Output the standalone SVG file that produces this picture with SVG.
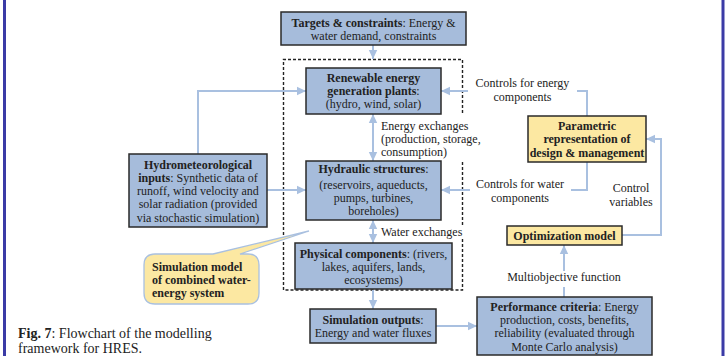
<svg xmlns="http://www.w3.org/2000/svg" width="727" height="356" viewBox="0 0 727 356">
<style>
text{font-family:"Liberation Serif","Times New Roman",serif;font-size:12px;fill:#222}
.c{text-anchor:middle}
.b{font-weight:bold}
.box{fill:#a6bcdb;stroke:#2a2a2a;stroke-width:1.5}
.yel{fill:#fce8a2;stroke:#2a2a2a;stroke-width:1.5}
.con{fill:none;stroke:#a9c0e0;stroke-width:2}
.dash{fill:none;stroke:#222;stroke-width:1.4;stroke-dasharray:3 2}
</style>
<defs>
<marker id="ah" markerUnits="userSpaceOnUse" markerWidth="10" markerHeight="10" refX="9" refY="5" orient="auto">
<path d="M0 0.8 L9 5 L0 9.2 Z" fill="#a9c0e0"/>
</marker>
<marker id="as" markerUnits="userSpaceOnUse" markerWidth="10" markerHeight="10" refX="9" refY="5" orient="auto-start-reverse">
<path d="M0 0.8 L9 5 L0 9.2 Z" fill="#a9c0e0"/>
</marker>
</defs>
<rect width="727" height="356" fill="#fff"/>
<rect x="3" y="0" width="3" height="356" fill="#3b3ba6"/>
<rect x="721.5" y="0" width="3" height="356" fill="#3b3ba6"/>

<g id="simulation-boundary">
<path class="dash" d="M462.5 113 V59.5 H283.5 V290 H462.5 V237 M462.5 225 V161"/>
</g>

<g id="connectors">
<path class="con" d="M373 45 V59" marker-end="url(#ah)"/>
<path class="con" d="M373 114 V161" marker-start="url(#as)" marker-end="url(#as)"/>
<path class="con" d="M373 220 V243" marker-start="url(#as)" marker-end="url(#as)"/>
<path class="con" d="M373 290 V309" marker-end="url(#ah)"/>
<path class="con" d="M436 326 H477" marker-end="url(#ah)"/>
<path class="con" d="M564 297 V287 M564 271 V245" marker-end="url(#ah)"/>
<path class="con" d="M622 235 H661 V139 H646" marker-end="url(#ah)"/>
<path class="con" d="M587 116 V91 H577 M468 91 H441" marker-end="url(#ah)"/>
<path class="con" d="M587 162 V190 H571 M470 190 H441" marker-end="url(#ah)"/>
<path class="con" d="M198 154 V91 H306" marker-end="url(#ah)"/>
<path class="con" d="M267 190 H306" marker-end="url(#ah)"/>
</g>

<g id="connector-labels">
<text class="c" x="522.5" y="87">Controls for energy</text>
<text class="c" x="522.5" y="100.5">components</text>
<text x="381" y="129.5">Energy exchanges</text>
<text x="381" y="143">(production, storage,</text>
<text x="381" y="156">consumption)</text>
<text class="c" x="520" y="188">Controls for water</text>
<text class="c" x="520" y="201.5">components</text>
<text x="381" y="235.5">Water exchanges</text>
<text class="c" x="631" y="192">Control</text>
<text class="c" x="631" y="206">variables</text>
<text class="c" x="564" y="281">Multiobjective function</text>
</g>

<g id="targets">
<rect class="box" x="281" y="12" width="185" height="33"/>
<text class="c" x="373.5" y="26.5"><tspan class="b">Targets &amp; constraints</tspan>: Energy &amp;</text>
<text class="c" x="373.5" y="39.5">water demand, constraints</text>
</g>

<g id="renewable">
<rect class="box" x="306" y="68" width="135" height="46"/>
<text class="c b" x="373.5" y="81.5">Renewable energy</text>
<text class="c" x="373.5" y="94.5"><tspan class="b">generation plants</tspan>:</text>
<text class="c" x="373.5" y="107.8">(hydro, wind, solar)</text>
</g>

<g id="hydraulic">
<rect class="box" x="306" y="161" width="135" height="59"/>
<text class="c" x="373.5" y="173"><tspan class="b">Hydraulic structures</tspan>:</text>
<text class="c" x="373.5" y="188.5">(reservoirs, aqueducts,</text>
<text class="c" x="373.5" y="201.5">pumps, turbines,</text>
<text class="c" x="373.5" y="214.8">boreholes)</text>
</g>

<g id="physical">
<rect class="box" x="295" y="243" width="157" height="46"/>
<text class="c" x="373.5" y="257.5"><tspan class="b">Physical components</tspan>: (rivers,</text>
<text class="c" x="373.5" y="271">lakes, aquifers, lands,</text>
<text class="c" x="373.5" y="284.3">ecosystems)</text>
</g>

<g id="simulation-outputs">
<rect class="box" x="310" y="309" width="126" height="34"/>
<text class="c" x="373" y="323.5"><tspan class="b">Simulation outputs</tspan>:</text>
<text class="c" x="373" y="337">Energy and water fluxes</text>
</g>

<g id="performance">
<rect class="box" x="477" y="297" width="175" height="58"/>
<text class="c" x="564.5" y="310.5"><tspan class="b">Performance criteria</tspan>: Energy</text>
<text class="c" x="564.5" y="324">production, costs, benefits,</text>
<text class="c" x="564.5" y="337.3">reliability (evaluated through</text>
<text class="c" x="564.5" y="350.6">Monte Carlo analysis)</text>
</g>

<g id="optimization">
<rect class="yel" x="507" y="226" width="115" height="19"/>
<text class="c b" x="564.5" y="239.5">Optimization model</text>
</g>

<g id="parametric">
<rect class="yel" x="528" y="116" width="118" height="46"/>
<text class="c b" x="587" y="129.5">Parametric</text>
<text class="c b" x="587" y="143">representation of</text>
<text class="c b" x="587" y="156.5">design &amp; management</text>
</g>

<g id="hydromet">
<rect class="box" x="129" y="154" width="138" height="73"/>
<text class="c b" x="198" y="168.5">Hydrometeorological</text>
<text class="c" x="198" y="181.8"><tspan class="b">inputs</tspan>: Synthetic data of</text>
<text class="c" x="198" y="195.1">runoff, wind velocity and</text>
<text class="c" x="198" y="208.4">solar radiation (provided</text>
<text class="c" x="198" y="221.7">via stochastic simulation)</text>
</g>

<g id="callout">
<path d="M155 254 H213 L309 231 L240 254 H248 Q259 254 259 265 V293 Q259 304 248 304 H155 Q144 304 144 293 V265 Q144 254 155 254 Z" fill="#fce8a2" stroke="#a9c0e0" stroke-width="1.3"/>
<text class="b" x="152" y="270.5">Simulation model</text>
<text class="b" x="152" y="283.8">of combined water-</text>
<text class="b" x="152" y="297.1">energy system</text>
</g>

<g id="caption">
<text x="18" y="337.5" style="font-size:14px"><tspan class="b">Fig. 7</tspan>: Flowchart of the modelling</text>
<text x="18" y="353" style="font-size:14px">framework for HRES.</text>
</g>
</svg>
